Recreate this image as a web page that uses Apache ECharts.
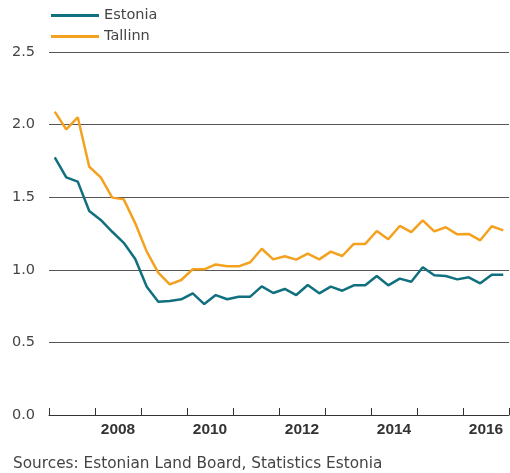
<!DOCTYPE html>
<html>
<head>
<meta charset="utf-8">
<script src="https://cdn.jsdelivr.net/npm/echarts@6/dist/echarts.min.js"></script>
<style>html,body{margin:0;padding:0;background:#fff}#c{width:510px;height:473px}</style>
</head>
<body>
<div id="c"></div>
<script>
var quarters = [];
for (var y = 2007; y <= 2016; y++) { for (var q = 1; q <= 4; q++) quarters.push(y + 'Q' + q); }
var estonia = [1.775,1.637,1.607,1.405,1.343,1.262,1.186,1.074,0.883,0.78,
  0.785,0.797,0.838,0.764,0.826,0.797,0.815,0.815,0.886,0.840,
  0.868,0.826,0.895,0.838,0.884,0.856,0.893,0.893,0.957,0.893,
  0.939,0.918,1.017,0.962,0.957,0.934,0.948,0.907,0.966,0.966];
var tallinn = [2.089,1.967,2.050,1.710,1.637,1.497,1.485,1.320,1.125,0.980,
  0.900,0.930,1.004,1.003,1.037,1.024,1.024,1.052,1.145,1.072,
  1.093,1.070,1.111,1.072,1.125,1.095,1.178,1.178,1.267,1.210,
  1.302,1.260,1.341,1.265,1.293,1.244,1.247,1.203,1.300,1.272];
var yearLabels = ['2008','2010','2012','2014','2016'];
var sourceText = 'Sources: Estonian Land Board, Statistics Estonia';

var FONT = "'DejaVu Sans', sans-serif";
var BOLDFONT = "'Liberation Sans', Arial, sans-serif";
var chart = echarts.init(document.getElementById('c'), null, {renderer: 'canvas'});
chart.setOption({
  animation: false,
  textStyle: {fontFamily: FONT},
  grid: {left: 49, right: 1, top: 52, bottom: 58, containLabel: false},
  legend: {
    orient: 'vertical', left: 51, top: 8, itemGap: 6, padding: 0,
    itemWidth: 48, itemHeight: 3, icon: 'rect',
    textStyle: {fontSize: 14.5, color: '#444', fontFamily: FONT, lineHeight: 14},
    data: ['Estonia', 'Tallinn']
  },
  xAxis: [
    {type: 'category', data: quarters, boundaryGap: true, position: 'bottom',
     axisLine: {show: false}, axisTick: {show: false}, axisLabel: {show: false}, splitLine: {show: false}},
    {type: 'value', min: 2007, max: 2017, interval: 1, position: 'bottom',
     axisLine: {show: true, lineStyle: {color: '#333', width: 1}},
     axisTick: {show: true, inside: true, length: 7, lineStyle: {color: '#333'}},
     axisLabel: {show: false}, splitLine: {show: false}},
    {type: 'value', min: 2007, max: 2017, interval: 0.5, position: 'bottom',
     axisLine: {show: false}, axisTick: {show: false}, splitLine: {show: false},
     axisLabel: {show: true, fontSize: 15.5, fontWeight: 'bold', color: '#333', margin: 7,
       fontFamily: BOLDFONT, showMinLabel: true, showMaxLabel: false,
       formatter: function (v) {
         var s = String(Math.floor(v));
         if (Math.abs(v - Math.floor(v) - 0.5) < 1e-6 && yearLabels.indexOf(s) >= 0) return s;
         return '';
       }}}
  ],
  yAxis: {
    type: 'value', min: 0, max: 2.5, interval: 0.5,
    axisLine: {show: false}, axisTick: {show: false},
    axisLabel: {fontSize: 14.5, color: '#444', margin: 14, fontFamily: FONT,
      formatter: function (v) { return v.toFixed(1); }},
    splitLine: {show: true, lineStyle: {color: '#555', width: 1}}
  },
  series: [
    {name: 'Estonia', type: 'line', xAxisIndex: 0, data: estonia, symbol: 'none',
     lineStyle: {width: 2.5, color: '#11707f'}, itemStyle: {color: '#11707f'}},
    {name: 'Tallinn', type: 'line', xAxisIndex: 0, data: tallinn, symbol: 'none',
     lineStyle: {width: 2.5, color: '#f4a11f'}, itemStyle: {color: '#f4a11f'}}
  ],
  graphic: [{type: 'text', x: 13, y: 464,
    style: {text: sourceText, fontSize: 15.3, fill: '#444', fontFamily: FONT, verticalAlign: 'middle'}}]
});
</script>
</body>
</html>
